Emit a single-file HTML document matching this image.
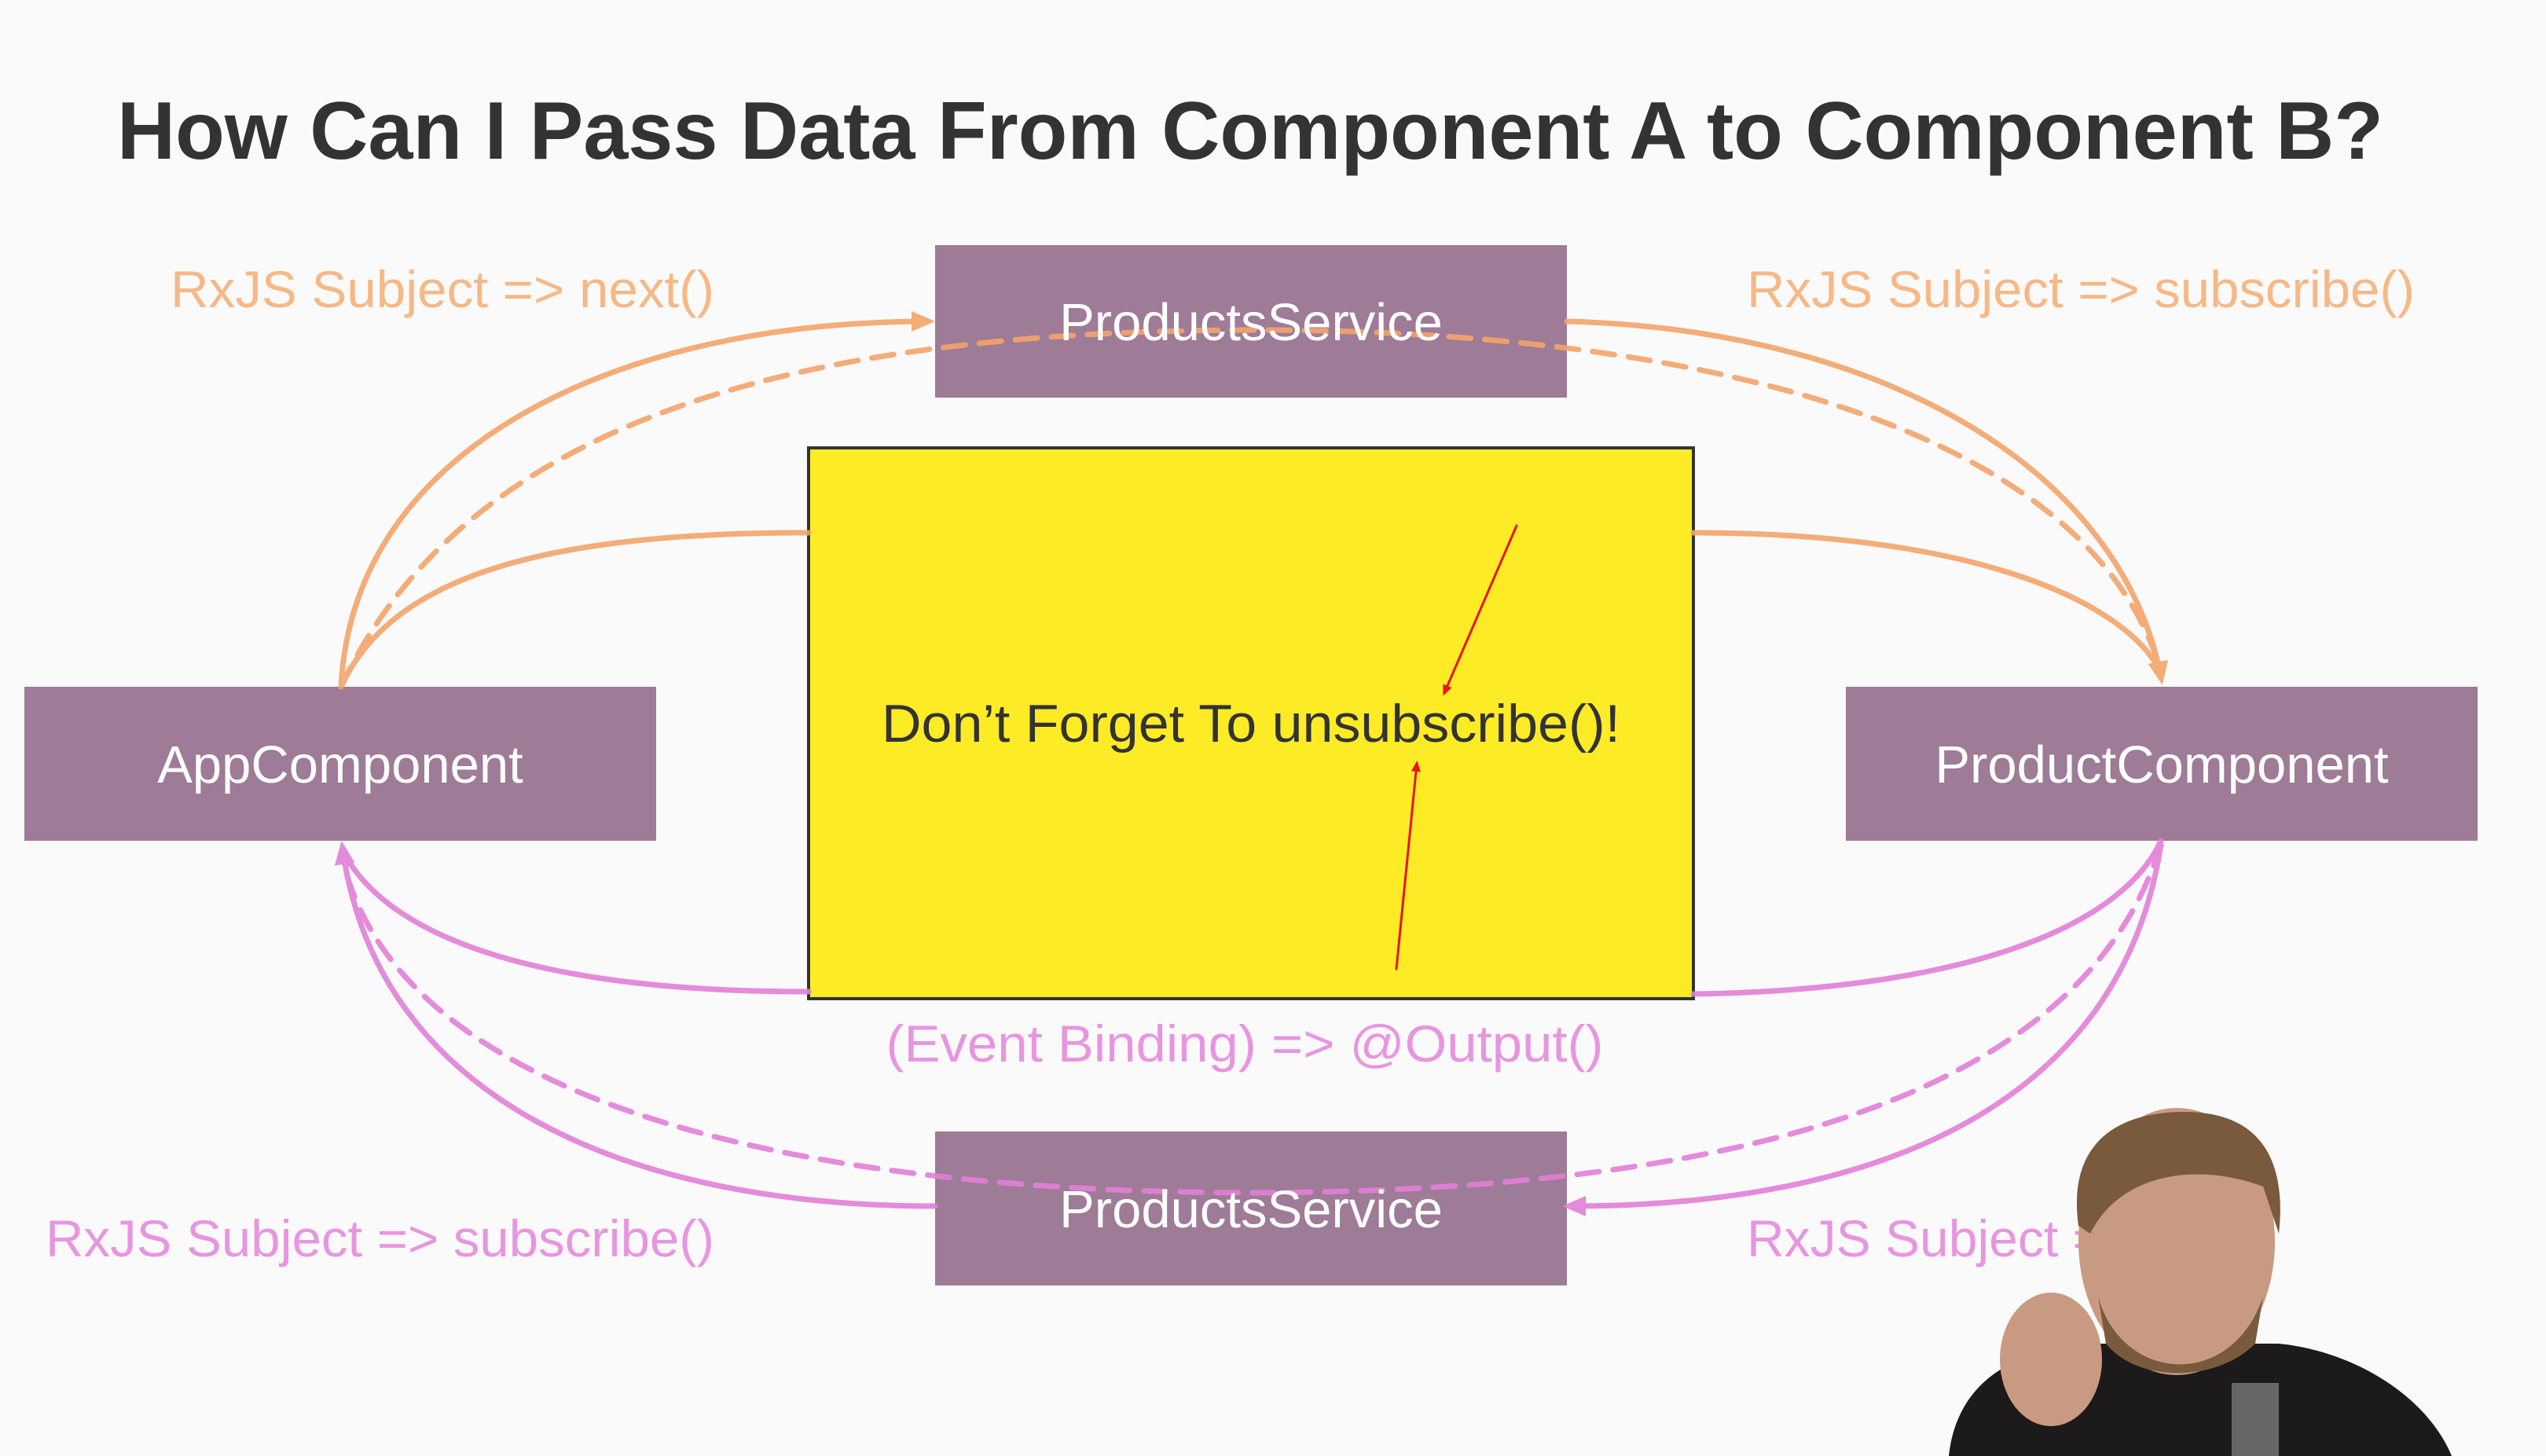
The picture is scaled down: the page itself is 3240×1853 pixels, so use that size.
<!DOCTYPE html>
<html><head><meta charset="utf-8"><style>
html,body{margin:0;padding:0;background:#fafafa;}
svg{display:block;}
text{font-family:"Liberation Sans",sans-serif;}
</style></head><body>
<svg width="3240" height="1853" viewBox="0 0 3240 1853" xmlns="http://www.w3.org/2000/svg">
<defs>
<marker id="ao" markerWidth="30" markerHeight="30" refX="20" refY="15" orient="auto" markerUnits="userSpaceOnUse" viewBox="0 0 30 30"><path d="M0,2 L30,15 L0,28 z" fill="#f4a46a"/></marker>
<marker id="ap" markerWidth="30" markerHeight="30" refX="20" refY="15" orient="auto" viewBox="0 0 30 30" markerUnits="userSpaceOnUse"><path d="M0,2 L30,15 L0,28 z" fill="#e27fd8"/></marker>
<marker id="ar" markerWidth="14" markerHeight="14" refX="10" refY="7" orient="auto" viewBox="0 0 14 14" markerUnits="userSpaceOnUse"><path d="M0,1 L14,7 L0,13 z" fill="#e8141c"/></marker>
</defs>
<rect width="3240" height="1853" fill="#fafafa"/>
<text x="1591" y="202" text-anchor="middle" font-size="104" font-weight="bold" fill="#333" textLength="2884" lengthAdjust="spacingAndGlyphs">How Can I Pass Data From Component A to Component B?</text>

<rect x="1190" y="312" width="804" height="194" fill="#9e7b96"/>
<rect x="1190" y="1440" width="804" height="196" fill="#9e7b96"/>
<rect x="31" y="874" width="804" height="196" fill="#9e7b96"/>
<rect x="2349" y="874" width="804" height="196" fill="#9e7b96"/>
<rect x="1029" y="570" width="1126" height="701" fill="#fdeb26" stroke="#333" stroke-width="4"/>

<g fill="none" stroke-linecap="round">
<g stroke="#f4a46a" stroke-width="7" opacity="0.9">
<path d="M434,874 C450,560 800,409 1180,409" marker-end="url(#ao)"/>
<path d="M434,874 C600,520 1050,420 1600,420 C2150,420 2660,540 2750,855" stroke-dasharray="28 18"/>
<path d="M1994,409 C2400,420 2700,600 2750,862" marker-end="url(#ao)"/>
<path d="M1029,678 C700,678 500,730 434,874"/>
<path d="M2155,678 C2500,678 2700,760 2750,855"/>
</g>
<g stroke="#e27fd8" stroke-width="7" opacity="0.9">
<path d="M1029,1262 C700,1262 500,1200 437,1085"/>
<path d="M2155,1265 C2500,1260 2700,1180 2750,1070"/>
<path d="M1190,1535 C800,1535 480,1400 436,1080" marker-end="url(#ap)"/>
<path d="M2750,1075 C2650,1400 2200,1515 1600,1518 C1000,1518 500,1400 434,1085" stroke-dasharray="28 18"/>
<path d="M2750,1075 C2700,1400 2400,1535 1998,1535" marker-end="url(#ap)"/>
</g>
<g stroke="#e8141c" stroke-width="3">
<path d="M1930,669 L1838,882" marker-end="url(#ar)"/>
<path d="M1777,1233 L1803,972" marker-end="url(#ar)"/>
</g>
</g>

<g font-size="67" fill="#fff" text-anchor="middle">
<text x="1592" y="433">ProductsService</text>
<text x="1592" y="1562">ProductsService</text>
<text x="433" y="996">AppComponent</text>
<text x="2751" y="996">ProductComponent</text>
</g>
<text x="1592" y="944" font-size="68" fill="#333" text-anchor="middle" textLength="940" lengthAdjust="spacingAndGlyphs">Don’t Forget To unsubscribe()!</text>
<g font-size="66" fill="#f7b886">
<text x="217" y="391" textLength="692" lengthAdjust="spacingAndGlyphs">RxJS Subject =&gt; next()</text>
<text x="2223" y="391" textLength="850" lengthAdjust="spacingAndGlyphs">RxJS Subject =&gt; subscribe()</text>
</g>
<g font-size="66" fill="#e895e0">
<text x="1584" y="1351" text-anchor="middle" textLength="913" lengthAdjust="spacingAndGlyphs">(Event Binding) =&gt; @Output()</text>
<text x="58" y="1599" textLength="851" lengthAdjust="spacingAndGlyphs">RxJS Subject =&gt; subscribe()</text>
<text x="2223" y="1599">RxJS Subject =</text>
</g>

<g>
<path d="M2480,1853 C2490,1760 2560,1720 2650,1710 L2900,1710 C3000,1720 3090,1780 3120,1853 Z" fill="#1c1a1a"/>
<ellipse cx="2770" cy="1580" rx="125" ry="170" fill="#c99a82"/>
<path d="M2645,1560 C2630,1450 2700,1415 2780,1415 C2880,1415 2910,1480 2900,1570 L2880,1510 C2800,1480 2700,1490 2660,1570 Z" fill="#7a5a3c"/>
<path d="M2670,1650 C2700,1760 2840,1770 2880,1650 L2870,1710 C2820,1760 2720,1760 2680,1710 Z" fill="#7a5a3c"/>
<ellipse cx="2610" cy="1730" rx="65" ry="85" fill="#c99a82"/>
<rect x="2840" y="1760" width="60" height="93" fill="#666"/>
</g>
</svg>
</body></html>
